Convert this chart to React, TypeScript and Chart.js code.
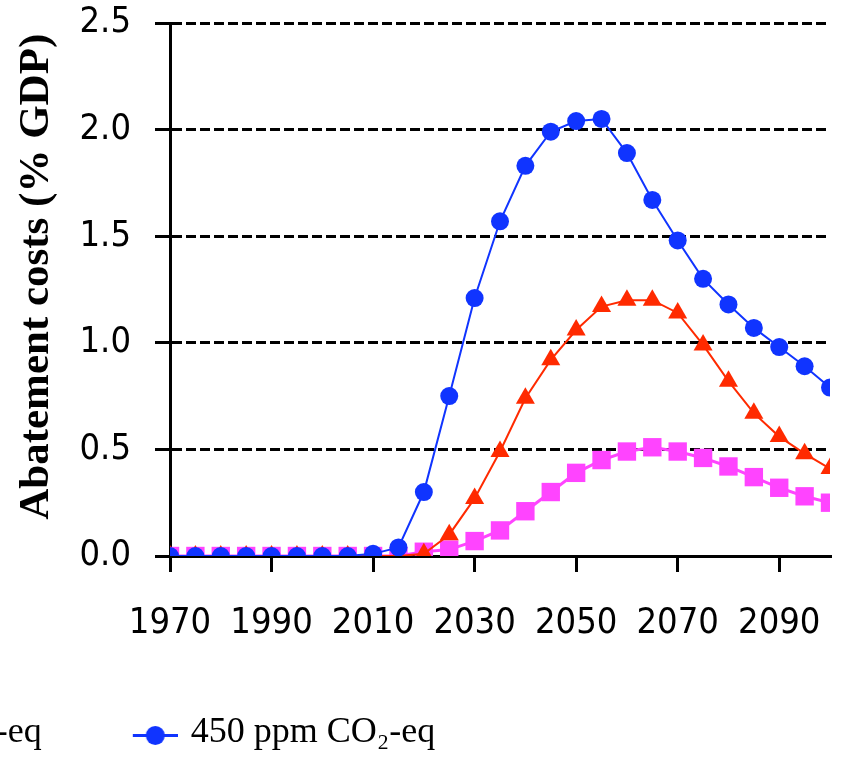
import React, { useEffect, useRef } from 'react';
import { Chart, registerables } from 'chart.js';

Chart.register(...registerables);

// ---- data ----
const years = [1970, 1975, 1980, 1985, 1990, 1995, 2000, 2005, 2010, 2015, 2020, 2025, 2030, 2035, 2040, 2045, 2050, 2055, 2060, 2065, 2070, 2075, 2080, 2085, 2090, 2095, 2100];
const cost650 = [0, 0, 0, 0, 0, 0, 0, 0, 0, 0, 0.02, 0.03, 0.07, 0.12, 0.21, 0.30, 0.39, 0.45, 0.49, 0.51, 0.49, 0.46, 0.42, 0.37, 0.32, 0.28, 0.25];
const cost550 = [0, 0, 0, 0, 0, 0, 0, 0, 0, 0, 0.01, 0.10, 0.27, 0.49, 0.74, 0.92, 1.06, 1.17, 1.20, 1.20, 1.14, 0.99, 0.82, 0.67, 0.56, 0.48, 0.41];
const cost450 = [0, 0, 0, 0, 0, 0, 0, 0, 0.01, 0.04, 0.30, 0.75, 1.21, 1.57, 1.83, 1.99, 2.04, 2.05, 1.89, 1.67, 1.48, 1.30, 1.18, 1.07, 0.98, 0.89, 0.79];
const xTickYears = [1970, 1990, 2010, 2030, 2050, 2070, 2090];
const seriesNames = ['650 ppm CO₂-eq', '550 ppm CO₂-eq', '450 ppm CO₂-eq'];
const yAxisTitle = 'Abatement costs (% GDP) ';

// ---- layout / style constants ----
const VIEW_W = 846;
const VIEW_H = 757;
const CANVAS_H = 761;
const PLOT_LEFT = 170;
const PAD_RIGHT = 16;
const PAD_TOP = 23;
const X_AXIS_H = 139;
const LEGEND_FONT = 36;
const LEGEND_PAD = 20;
const SYMBOL_OFFSET = 71; // empty space inside legend box before the symbol
const LEGEND_BOX = SYMBOL_OFFSET + 40;
const ITEM_LEFT = 133 - SYMBOL_OFFSET;
const SERIF = '"Liberation Serif", "DejaVu Serif", serif';
const TICK_FAMILY = '"DejaVu Sans Condensed", "Liberation Sans", sans-serif';

const styles = [
  { color: '#FF44FF', point: 'rect', radius: 13, lineWidth: 3, legendRadius: 12 },
  { color: '#FF2A00', point: 'triangle', radius: 11, lineWidth: 2, legendRadius: 11 },
  { color: '#1034FF', point: 'circle', radius: 9, lineWidth: 2, legendRadius: 9.5 },
];

function drawMarker(ctx: CanvasRenderingContext2D, style: string, x: number, y: number, r: number) {
  ctx.beginPath();
  if (style === 'circle') {
    ctx.arc(x, y, r, 0, Math.PI * 2);
  } else if (style === 'triangle') {
    const h = Math.sin(Math.PI / 3) * r;
    ctx.moveTo(x, y - r);
    ctx.lineTo(x + h, y + r / 2);
    ctx.lineTo(x - h, y + r / 2);
    ctx.closePath();
  } else {
    const s = r * Math.SQRT1_2;
    ctx.rect(x - s, y - s, 2 * s, 2 * s);
  }
  ctx.fill();
}

// legend symbol: line with marker, placed at the right end of the legend box
function makeSymbol(st: typeof styles[number]) {
  const c = document.createElement('canvas');
  const iw = 2 * (LEGEND_BOX + 5 - LEGEND_BOX / 2);
  c.width = iw;
  c.height = 24;
  const ctx = c.getContext('2d')!;
  const x0 = iw - 45;
  ctx.strokeStyle = st.color;
  ctx.fillStyle = st.color;
  ctx.lineWidth = 3;
  ctx.beginPath();
  ctx.moveTo(x0, 14.5);
  ctx.lineTo(iw, 14.5);
  ctx.stroke();
  drawMarker(ctx, st.point, x0 + 22.5, 14.5, st.legendRadius);
  return c;
}

export default function App() {
  const ref = useRef<HTMLCanvasElement>(null);

  useEffect(() => {
    const canvas = ref.current!;
    const mctx = document.createElement('canvas').getContext('2d')!;
    mctx.font = `normal ${LEGEND_FONT}px ${SERIF}`;
    const w = seriesNames.map((t) => LEGEND_BOX + LEGEND_FONT / 2 + mctx.measureText(t).width);
    const L = Math.round(VIEW_W - PAD_RIGHT - 2 * ITEM_LEFT + w[0] + w[1] - w[2] + 2 * LEGEND_PAD);
    const W = VIEW_W + L;
    canvas.width = W;
    canvas.height = CANVAS_H;
    canvas.style.width = W + 'px';
    canvas.style.height = CANVAS_H + 'px';
    canvas.style.left = -L + 'px';

    const symbols = styles.map(makeSymbol);
    const series = [cost650, cost550, cost450];

    const chart = new Chart(canvas, {
      type: 'line',
      data: {
        datasets: series.map((vals, i) => ({
          label: seriesNames[i],
          data: years.map((yr, k) => ({ x: yr, y: vals[k] })),
          borderColor: styles[i].color,
          backgroundColor: styles[i].color,
          borderWidth: styles[i].lineWidth,
          pointStyle: styles[i].point,
          pointRadius: styles[i].radius,
          pointBorderWidth: 0,
          pointBackgroundColor: styles[i].color,
          tension: 0,
          order: 3 - i,
        })),
      },
      options: {
        animation: false,
        responsive: false,
        devicePixelRatio: 1,
        events: [],
        layout: { padding: { top: PAD_TOP, right: PAD_RIGHT, left: 0, bottom: 0 } },
        plugins: {
          tooltip: { enabled: false },
          legend: {
            position: 'bottom',
            labels: {
              usePointStyle: true,
              pointStyleWidth: LEGEND_BOX,
              padding: LEGEND_PAD,
              color: '#000',
              font: { family: SERIF, size: LEGEND_FONT },
              generateLabels: (ch: any) =>
                ch.data.datasets.map((ds: any, i: number) => ({
                  text: ds.label,
                  pointStyle: symbols[i],
                  fillStyle: ds.borderColor,
                  strokeStyle: ds.borderColor,
                  lineWidth: 0,
                  hidden: false,
                  datasetIndex: i,
                  fontColor: '#000',
                })),
            },
          },
        },
        scales: {
          x: {
            type: 'linear',
            min: 1970,
            max: 2100,
            afterBuildTicks: (scale: any) => {
              scale.ticks = xTickYears.map((v) => ({ value: v }));
            },
            afterFit: (scale: any) => {
              scale.height = X_AXIS_H;
              scale.paddingLeft = 0;
              scale.paddingRight = 0;
            },
            ticks: {
              color: '#000',
              padding: 34,
              maxRotation: 0,
              autoSkip: false,
              font: { family: TICK_FAMILY, size: 36, lineHeight: 1 },
              callback: (v: any) => String(v),
            },
            grid: {
              drawOnChartArea: false,
              drawTicks: true,
              tickLength: 16,
              color: '#000',
              lineWidth: 3,
            },
            border: { display: true, color: '#000', width: 3 },
          },
          y: {
            type: 'linear',
            min: 0,
            max: 2.5,
            afterFit: (scale: any) => {
              scale.width = L + PLOT_LEFT;
              scale.paddingTop = 0;
              scale.paddingBottom = 0;
            },
            ticks: {
              stepSize: 0.5,
              color: '#000',
              padding: 24,
              font: { family: TICK_FAMILY, size: 36, lineHeight: 1 },
              callback: (v: any) => Number(v).toFixed(1),
            },
            grid: {
              drawTicks: true,
              tickLength: 15,
              color: '#000',
              lineWidth: 3,
              tickBorderDash: [],
              tickColor: '#000',
              tickWidth: 3,
            },
            border: { display: true, color: '#000', width: 3, dash: [10, 4] },
            title: {
              display: true,
              text: yAxisTitle,
              align: 'end',
              color: '#000',
              font: { family: SERIF, size: 43, weight: 'bold', lineHeight: 1 },
              padding: { top: L + 15, bottom: 0 },
            },
          },
        },
      },
    } as any);

    return () => chart.destroy();
  }, []);

  return (
    <div
      style={{
        position: 'absolute',
        left: 0,
        top: 0,
        width: VIEW_W,
        height: VIEW_H,
        overflow: 'hidden',
        background: '#fff',
      }}
    >
      <canvas ref={ref} style={{ position: 'absolute', top: 0 }} />
    </div>
  );
}
